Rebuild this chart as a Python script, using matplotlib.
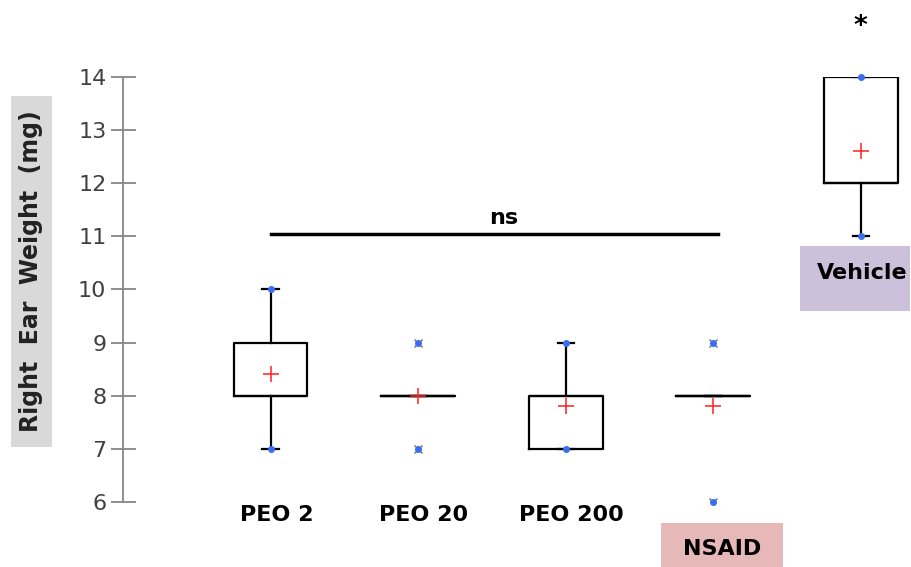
import matplotlib
matplotlib.use('Agg')
import matplotlib.pyplot as plt
from matplotlib.patches import Rectangle

groups = ['PEO 2', 'PEO 20', 'PEO 200', 'NSAID', 'Vehicle']
q1 = [8, 8, 7, 8, 12]
med = [8, 8, 8, 8, 12]
q3 = [9, 8, 8, 8, 14]
whisLow = [7, 8, 7, 8, 11]
whisHigh = [10, 8, 9, 8, 14]
means = [8.4, 8.0, 7.8, 7.8, 12.6]
mins = [7, 7, 7, 6, 11]
maxs = [10, 9, 9, 9, 14]
fliers = [[], [7, 9], [], [6, 9], []]

yTicks = [6, 7, 8, 9, 10, 11, 12, 13, 14]
nsLevel = 11.05

positions = list(range(1, len(groups) + 1))

W, H = 912, 567
fig = plt.figure(figsize=(9.12, 5.67), dpi=100)
ax = fig.add_axes([123 / W, 65 / H, 782 / W, 425 / H])

stats = []
for i in range(len(groups)):
    stats.append({'label': groups[i], 'q1': q1[i], 'med': med[i], 'q3': q3[i],
                  'whislo': whisLow[i], 'whishi': whisHigh[i], 'mean': means[i],
                  'fliers': fliers[i]})

ax.bxp(stats, positions=positions, widths=0.5, capwidths=0.11, showmeans=True,
       boxprops=dict(color='black', linewidth=1.6),
       medianprops=dict(color='black', linewidth=1.6),
       whiskerprops=dict(color='black', linewidth=1.6),
       capprops=dict(color='black', linewidth=1.6),
       meanprops=dict(marker='+', markeredgecolor='#ff2020', markersize=12, markeredgewidth=1.1),
       flierprops=dict(marker='x', markeredgecolor='#707070', markersize=6, markeredgewidth=1.0))

# blue points at min and max
ax.scatter(positions, mins, s=16, color='#3a6df0', zorder=5, clip_on=False)
ax.scatter(positions, maxs, s=16, color='#3a6df0', zorder=5, clip_on=False)

ax.set_xlim(0, 5.3)
ax.set_ylim(6, 14)
ax.set_yticks(yTicks)
ax.set_xticks([])
for s in ['top', 'right', 'bottom']:
    ax.spines[s].set_visible(False)
ax.spines['left'].set_color('#868686')
ax.spines['left'].set_linewidth(1.3)
ax.tick_params(axis='y', direction='inout', length=18, width=1.3, color='#868686',
               labelsize=16, labelcolor='#404040', pad=3)

# significance
ax.plot([positions[0], positions[3] + 0.03], [nsLevel, nsLevel], color='black', linewidth=2.5, clip_on=False)
ax.text(2.58, nsLevel + 0.1, 'ns', ha='center', va='bottom', fontsize=16, fontweight='bold')
ax.text(positions[4], 14.95, '*', ha='center', va='center', fontsize=19, fontweight='bold')

# label backgrounds
fig.patches.append(Rectangle((661 / W, 0), 122 / W, 44 / H, transform=fig.transFigure,
                             facecolor='#e6b8b7', edgecolor='none', zorder=0))
fig.patches.append(Rectangle((800 / W, 1 - 311 / H), 110 / W, 65 / H, transform=fig.transFigure,
                             facecolor='#ccc0da', edgecolor='none', zorder=0))
fig.patches.append(Rectangle((11 / W, 1 - 447 / H), 41 / W, 351 / H, transform=fig.transFigure,
                             facecolor='#d9d9d9', edgecolor='none', zorder=0))

# group labels
for i in range(3):
    ax.text(positions[i] + 0.04, 5.76, groups[i], ha='center', va='center', fontsize=16,
            fontweight='bold', clip_on=False)
fig.text(722 / W, 1 - 549 / H, groups[3], ha='center', va='center', fontsize=16, fontweight='bold')
fig.text(862 / W, 1 - 273 / H, groups[4], ha='center', va='center', fontsize=16, fontweight='bold')

fig.text(31 / W, 1 - 271 / H, 'Right  Ear  Weight  (mg)', rotation=90, ha='center', va='center',
         fontsize=17, fontweight='bold', color='#222222')

fig.savefig('out.png', dpi=100)
